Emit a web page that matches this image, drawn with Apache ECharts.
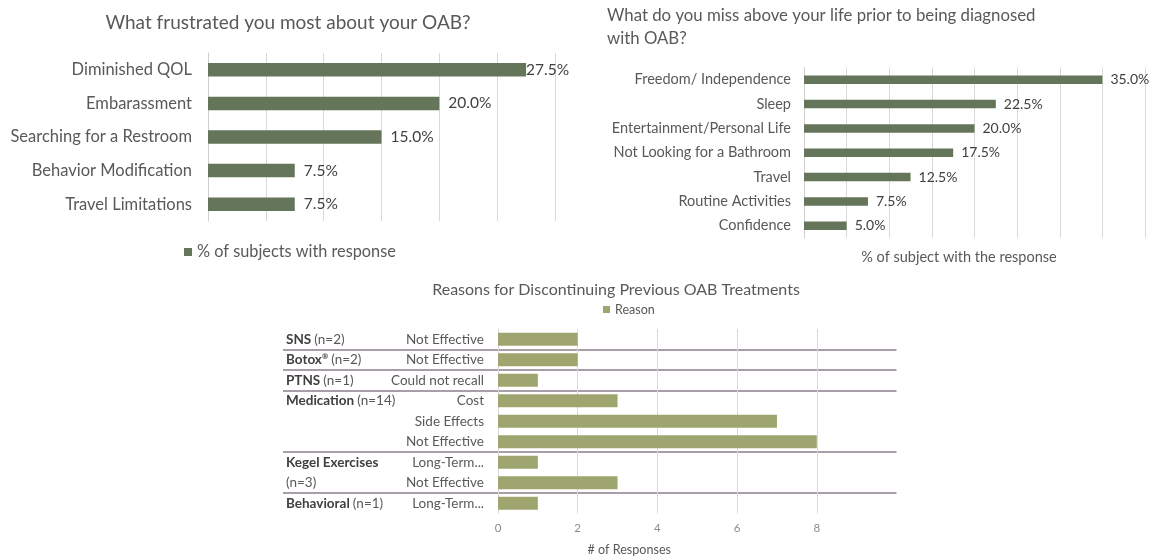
<!DOCTYPE html>
<html><head><meta charset="utf-8">
<script src="https://cdn.jsdelivr.net/npm/echarts@6/dist/echarts.min.js"></script>
<style>html,body{margin:0;padding:0;background:#fff}#c{width:1153px;height:560px}</style>
</head><body><div id="c"></div>
<script>
// ---- data ----
const frustCategories = ['Diminished QOL', 'Embarassment', 'Searching for a Restroom', 'Behavior Modification', 'Travel Limitations'];
const frustValues = [27.5, 20.0, 15.0, 7.5, 7.5];
const missCategories = ['Freedom/ Independence', 'Sleep', 'Entertainment/Personal Life', 'Not Looking for a Bathroom', 'Travel', 'Routine Activities', 'Confidence'];
const missValues = [35.0, 22.5, 20.0, 17.5, 12.5, 7.5, 5.0];
const treatGroups = ['SNS', 'Botox®', 'PTNS', 'Medication', 'Kegel Exercises', 'Behavioral'];
const treatN = [2, 2, 1, 14, 3, 1];
const reasonLabels = ['Not Effective', 'Not Effective', 'Could not recall', 'Cost', 'Side Effects', 'Not Effective', 'Long-Term...', 'Not Effective', 'Long-Term...'];
const reasonGroup = [0, 1, 2, 3, 3, 3, 4, 4, 5];
const reasonCounts = [2, 2, 1, 3, 7, 8, 1, 3, 1];

// ---- helpers ----
const FONT = 'Lato';
const DARK = '#65755a';
const LIGHT = '#9ea56e';
const GRID_C = '#d9d9d9';

function groupName(g) {
  const name = treatGroups[g];
  if (name.indexOf('®') >= 0) return '{b|' + name.replace('®', '') + '}{sup|®}';
  return '{b|' + name + '}';
}
const groupRowLabels = reasonLabels.map(function (_, i) {
  const g = reasonGroup[i];
  const first = (i === 0 || reasonGroup[i - 1] !== g);
  const span = reasonGroup.filter(function (x) { return x === g; }).length;
  const wrap = span > 1 && treatGroups[g].indexOf(' ') >= 0;
  if (first) return wrap ? groupName(g) : groupName(g) + ' {n|(n=' + treatN[g] + ')}';
  if (wrap && reasonGroup[i - 1] === g && (i < 2 || reasonGroup[i - 2] !== g)) return '{n|(n=' + treatN[g] + ')}';
  return '';
});
const sepIdx = reasonLabels.map(function (_, i) { return i > 0 && reasonGroup[i] !== reasonGroup[i - 1]; });

const pct = function (p) { return p.value.toFixed(1) + '%'; };

const option = {
  animation: false,
  backgroundColor: '#fff',
  textStyle: { fontFamily: FONT },
  title: [
    { text: 'What frustrated you most about your OAB?', left: 288, top: 13, textAlign: 'center', padding: 0,
      textStyle: { fontFamily: FONT, fontSize: 19, fontWeight: 'normal', color: '#595959' } },
    { text: 'What do you miss above your life prior to being diagnosed\nwith OAB?', left: 607, top: 4, padding: 0,
      textStyle: { fontFamily: FONT, fontSize: 16.8, lineHeight: 23, fontWeight: 'normal', color: '#595959' } },
    { text: 'Reasons for Discontinuing Previous OAB Treatments', left: 616, top: 282, textAlign: 'center', padding: 0,
      textStyle: { fontFamily: FONT, fontSize: 16, fontWeight: 'normal', color: '#595959' } }
  ],
  legend: [
    { data: ['% of subjects with response'], left: 184, top: 244, padding: 0, icon: 'rect', itemWidth: 8, itemHeight: 8, itemGap: 5,
      textStyle: { fontFamily: FONT, fontSize: 16.3, color: '#595959' } },
    { data: ['Reason'], left: 603, top: 303, padding: 0, icon: 'rect', itemWidth: 7, itemHeight: 7,
      textStyle: { fontFamily: FONT, fontSize: 12.5, color: '#595959' } }
  ],
  grid: [
    { left: 208, top: 53, width: 347, height: 168 },
    { left: 804, top: 67.5, width: 341, height: 170.5 },
    { left: 498, top: 329, width: 398.5, height: 184.5 },
    { left: 283, top: 329, width: 613.5, height: 184.5 }
  ],
  xAxis: [
    { gridIndex: 0, type: 'value', min: 0, max: 30, interval: 5,
      axisLabel: { show: false }, axisLine: { show: false }, axisTick: { show: false },
      splitLine: { lineStyle: { color: GRID_C } } },
    { gridIndex: 1, type: 'value', min: 0, max: 40, interval: 5,
      axisLabel: { show: false }, axisLine: { show: false }, axisTick: { show: false },
      splitLine: { lineStyle: { color: GRID_C } },
      name: '% of subject with the response', nameLocation: 'middle', nameGap: 12,
      nameTextStyle: { fontFamily: FONT, fontSize: 14.5, color: '#595959', padding: [0, 31, 0, 0] } },
    { gridIndex: 2, type: 'value', min: 0, max: 10, interval: 2,
      axisLabel: { fontFamily: FONT, fontSize: 11.5, color: '#8c8c8c', margin: 9, showMaxLabel: false },
      axisLine: { show: false }, axisTick: { show: false },
      splitLine: { showMaxLine: false, lineStyle: { color: GRID_C } },
      name: '# of Responses', nameLocation: 'middle', nameGap: 30,
      nameTextStyle: { fontFamily: FONT, fontSize: 12.6, color: '#595959', padding: [0, 136, 0, 0] } },
    { gridIndex: 3, type: 'value', min: 0, max: 10, show: false }
  ],
  yAxis: [
    { gridIndex: 0, type: 'category', data: frustCategories, inverse: true, offset: 3,
      axisLine: { lineStyle: { color: '#cfcfcf' } }, axisTick: { length: 4, lineStyle: { color: '#cfcfcf' } },
      axisLabel: { fontFamily: FONT, fontSize: 16.5, color: '#595959', margin: 13, interval: 0 } },
    { gridIndex: 1, type: 'category', data: missCategories, inverse: true, offset: 1,
      axisLine: { lineStyle: { color: '#cfcfcf' } }, axisTick: { length: 4, lineStyle: { color: '#cfcfcf' } },
      axisLabel: { fontFamily: FONT, fontSize: 14.5, color: '#595959', margin: 12, interval: 0 } },
    { gridIndex: 2, type: 'category', data: reasonLabels, inverse: true,
      axisLine: { show: false }, axisTick: { show: false },
      axisLabel: { fontFamily: FONT, fontSize: 13.5, color: '#595959', margin: 14, interval: 0 } },
    { gridIndex: 3, type: 'category', data: reasonLabels, inverse: true,
      axisLine: { show: false }, axisTick: { show: false },
      splitLine: { show: true, showMaxLine: false,
        interval: function (i) { return !!sepIdx[i]; },
        lineStyle: { color: '#a79fa7', width: 2 } },
      axisLabel: { inside: true, margin: 3, interval: 0,
        formatter: function (v, i) { return groupRowLabels[i]; },
        rich: {
          b: { fontFamily: FONT, fontSize: 13.5, fontWeight: 'bold', color: '#404040' },
          sup: { fontFamily: FONT, fontSize: 7.5, fontWeight: 'bold', color: '#404040', verticalAlign: 'top', padding: [0, 0, 6, 0] },
          n: { fontFamily: FONT, fontSize: 13.5, color: '#595959' }
        } } }
  ],
  series: [
    { type: 'bar', name: '% of subjects with response', xAxisIndex: 0, yAxisIndex: 0, barWidth: 13.5,
      itemStyle: { color: DARK },
      label: { show: true, position: 'right', distance: 9, formatter: pct, fontFamily: FONT, fontSize: 15.5, color: '#404040' },
      data: frustValues.map(function (v, i) { return i === 0 ? { value: v, label: { distance: 0 } } : v; }) },
    { type: 'bar', name: '% of subject with the response', xAxisIndex: 1, yAxisIndex: 1, barWidth: 8.5,
      itemStyle: { color: DARK },
      label: { show: true, position: 'right', distance: 8, formatter: pct, fontFamily: FONT, fontSize: 14, color: '#404040' },
      data: missValues },
    { type: 'bar', name: 'Reason', xAxisIndex: 2, yAxisIndex: 2, barWidth: 13,
      itemStyle: { color: LIGHT },
      data: reasonCounts }
  ]
};
const chart = echarts.init(document.getElementById('c'), null, { renderer: 'canvas' });
chart.setOption(option);
</script>
</body></html>
